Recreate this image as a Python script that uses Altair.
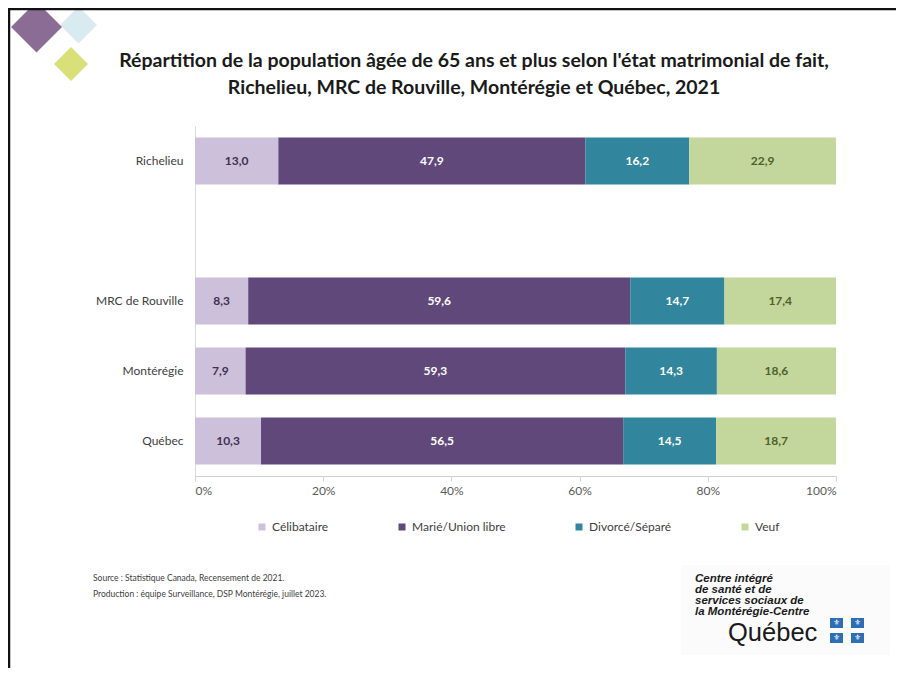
import altair as alt
import pandas as pd

# ---- data ----
regions = ["Richelieu", "MRC de Rouville", "Montérégie", "Québec"]
statuts = ["Célibataire", "Marié/Union libre", "Divorcé/Séparé", "Veuf"]
celibataire = [13.0, 8.3, 7.9, 10.3]
marie = [47.9, 59.6, 59.3, 56.5]
divorce = [16.2, 14.7, 14.3, 14.5]
veuf = [22.9, 17.4, 18.6, 18.7]
y_order = ["Richelieu", " ", "MRC de Rouville", "Montérégie", "Québec"]
x_ticks = [0, 0.2, 0.4, 0.6, 0.8, 1.0]

title_lines = [
    "Répartition de la population âgée de 65 ans et plus selon l'état matrimonial de fait,",
    "Richelieu, MRC de Rouville, Montérégie et Québec, 2021",
]
source_lines = [
    "Source : Statistique Canada, Recensement de 2021.",
    "Production : équipe Surveillance, DSP Montérégie, juillet 2023.",
]
logo_lines = ["Centre intégré", "de santé et de", "services sociaux de", "la Montérégie-Centre"]

# ---- styles ----
bar_colors = ["#CCC0DA", "#60497A", "#31859C", "#C3D69B"]
label_colors = ["#3F3151", "#FFFFFF", "#FFFFFF", "#4F6228"]
FONT = "Lato"

rows = []
for i, r in enumerate(regions):
    for j, (s, vals) in enumerate(zip(statuts, [celibataire, marie, divorce, veuf])):
        rows.append({"region": r, "statut": s, "ordre": j, "valeur": vals[i]})
df = pd.DataFrame(rows)

base = alt.Chart(df).transform_stack(
    stack="valeur", groupby=["region"], as_=["x0", "x1"],
    sort=[alt.SortField("ordre", order="ascending")], offset="normalize"
).transform_calculate(
    mid="(datum.x0 + datum.x1) / 2",
    etiquette="replace(format(datum.valeur, '.1f'), '.', ',')",
)

y_enc = alt.Y(
    "region:N",
    scale=alt.Scale(domain=y_order, paddingInner=0.33, paddingOuter=0.165),
    axis=alt.Axis(title=None, ticks=False, labelPadding=12, domainColor="#D9D9D9",
                  labelFontSize=12, labelColor="#404040", labelFont=FONT),
)

bars = base.mark_bar().encode(
    x=alt.X("x0:Q", scale=alt.Scale(domain=[0, 1], nice=False),
            axis=alt.Axis(values=x_ticks, format="%", grid=False, title=None,
                          labelFont=FONT, labelFontSize=12, labelColor="#595959",
                          tickColor="#D0D0D0", domainColor="#D0D0D0", tickSize=5,
                          labelPadding=4)),
    x2="x1:Q",
    y=y_enc,
    color=alt.Color("statut:N", scale=alt.Scale(domain=statuts, range=bar_colors),
                    legend=alt.Legend(title=None, orient="none", legendX=61, legendY=395,
                                      direction="horizontal", symbolType="square",
                                      symbolSize=49, symbolStrokeWidth=0,
                                      labelFont=FONT, labelFontSize=12,
                                      labelColor="#404040", columnPadding=67,
                                      padding=0)),
)

labels = base.mark_text(font=FONT, fontSize=12, fontWeight="bold").encode(
    x=alt.X("mid:Q"),
    y=alt.Y("region:N", scale=alt.Scale(domain=y_order)),
    text="etiquette:N",
    color=alt.Color("statut:N", scale=alt.Scale(domain=statuts, range=label_colors),
                    legend=None),
)

one = pd.DataFrame({"k": [0]})

def diamond(x, y, size, color):
    return alt.Chart(one).mark_point(shape="diamond", filled=True, size=size,
                                     color=color, opacity=1).encode(
        x=alt.value(x), y=alt.value(y))

deco = [
    diamond(-116.5, -101, 1369, "#DAEAF1"),
    diamond(-158.5, -99, 2600, "#8A6C95"),
    diamond(-124, -62, 1156, "#D9E07A"),
    alt.Chart(one).mark_rule(color="#111111", strokeWidth=2.5).encode(
        x=alt.value(-187), x2=alt.value(701), y=alt.value(-117)),
    alt.Chart(one).mark_rule(color="#111111", strokeWidth=2.5).encode(
        x=alt.value(-186), y=alt.value(-118), y2=alt.value(542)),
]

titles = [
    alt.Chart(one).mark_text(text=t, align="center", baseline="middle", font=FONT,
                             fontSize=19.5, fontWeight="bold", color="#1a1a1a").encode(
        x=alt.value(279), y=alt.value(yy))
    for t, yy in zip(title_lines, [-65, -38])
]

src = [
    alt.Chart(one).mark_text(text=t, align="left", baseline="middle", font=FONT,
                             fontSize=8.5, color="#404040").encode(
        x=alt.value(-102), y=alt.value(yy))
    for t, yy in zip(source_lines, [452, 468])
]

logo = [
    alt.Chart(one).mark_rect(color="#FBFBFB").encode(
        x=alt.value(486), x2=alt.value(695), y=alt.value(439), y2=alt.value(529)),
]
logo += [
    alt.Chart(one).mark_text(text=t, align="left", baseline="alphabetic",
                             font="Liberation Sans", fontSize=11.5, fontWeight="bold",
                             fontStyle="italic", color="#1a1a1a").encode(
        x=alt.value(500), y=alt.value(yy))
    for t, yy in zip(logo_lines, [456, 467, 478, 489])
]
logo += [
    alt.Chart(one).mark_text(text="Québec", align="left", baseline="alphabetic",
                             font="Liberation Sans", fontSize=25.5,
                             color="#1a1a1a").encode(x=alt.value(533), y=alt.value(515)),
]
for fx in [641.5, 662.5]:
    for fy in [497, 512]:
        logo.append(alt.Chart(one).mark_rect(color="#2F6DB5").encode(
            x=alt.value(fx - 6.5), x2=alt.value(fx + 6.5),
            y=alt.value(fy - 5), y2=alt.value(fy + 5)))
        logo.append(alt.Chart(one).mark_text(text="⚜", font="DejaVu Sans", fontSize=8,
                                             color="white", baseline="middle").encode(
            x=alt.value(fx), y=alt.value(fy)))

chart = alt.layer(*deco, bars, labels, *titles, *src, *logo).resolve_scale(
    color="independent"
).properties(
    width=641, height=350,
    autosize=alt.AutoSizeParams(type="none"),
    padding={"left": 187, "top": 118, "right": 60, "bottom": 192},
    background="white",
).configure_view(stroke=None)

chart.save("out.html", embed_options={"renderer": "svg", "actions": False})
